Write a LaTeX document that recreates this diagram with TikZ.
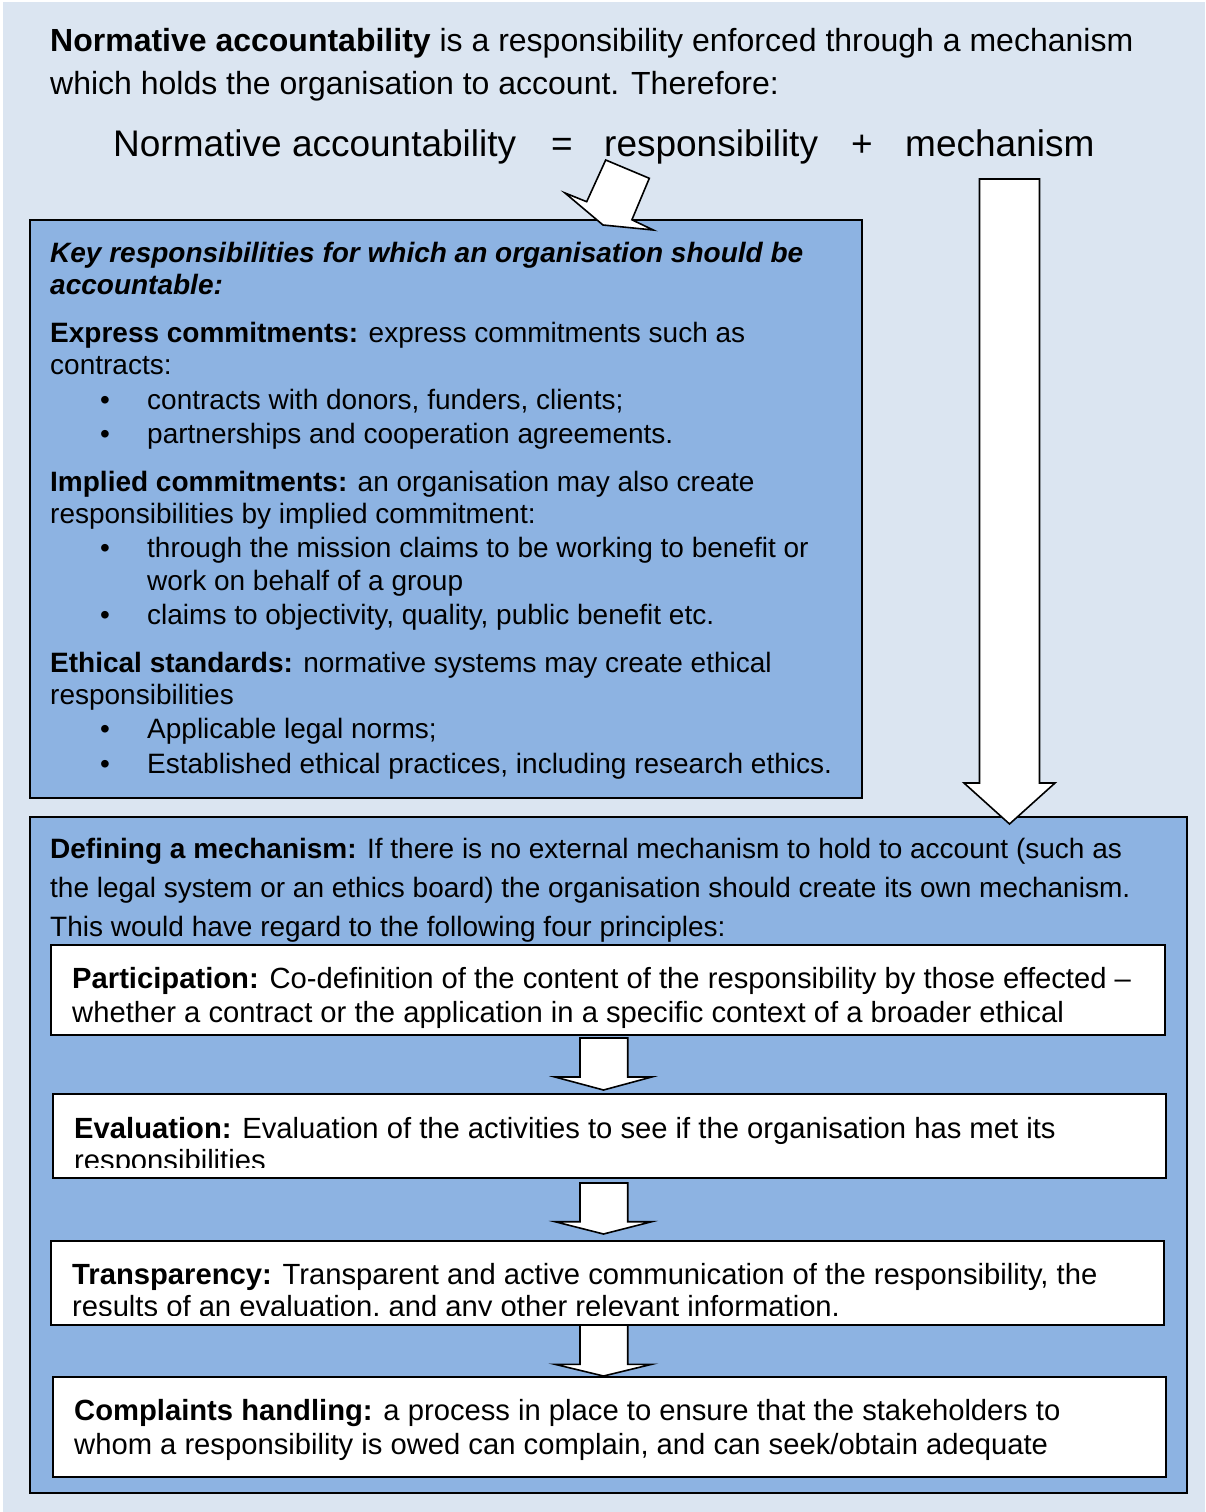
\documentclass[tikz,border=0pt]{standalone}
\usepackage{fontspec}
\setmainfont{Liberation Sans}
\definecolor{bgblue}{HTML}{DBE5F1}
\definecolor{boxblue}{HTML}{8DB3E2}
\begin{document}
\begin{tikzpicture}[x=1pt,y=-1pt,
  txt/.style={anchor=base west,inner sep=0pt,font=\fontsize{28}{34}\selectfont},
  ptxt/.style={anchor=base west,inner sep=0pt,font=\fontsize{29.2}{35}\selectfont},
  toptxt/.style={anchor=base west,inner sep=0pt,font=\fontsize{32}{38}\selectfont},
  eqtxt/.style={anchor=base west,inner sep=0pt,font=\fontsize{37}{44}\selectfont},
  eqsym/.style={anchor=base,inner sep=0pt,font=\fontsize{37}{44}\selectfont},
  bul/.style={anchor=base,inner sep=0pt,font=\fontsize{28}{34}\selectfont},
  panel/.style={draw=black,line width=2pt,fill=boxblue},
  whitebox/.style={draw=black,line width=2pt,fill=white},
  blockarrow/.style={draw=black,line width=1.6pt,fill=white,line join=miter}]
\useasboundingbox (0,0) rectangle (1205,1512);
\fill[bgblue] (3,2) rectangle (1205,1512);

% top text
\node[toptxt] (t1) at (50,51.5) {\textbf{Normative accountability} is a responsibility enforced through a mechanism};
\node[toptxt] (t2) at (50,94.5) {which holds the organisation to account. Therefore:};
\node[eqtxt] (e1) at (113,156) {Normative accountability};
\node[eqsym] (e2) at (562,156) {=};
\node[eqtxt] (e3) at (604,156) {responsibility};
\node[eqsym] (e4) at (862,156) {+};
\node[eqtxt] (e5) at (905,156) {mechanism};

% key responsibilities panel
\draw[panel] (30,220) rectangle (862,798);
\node[txt] (k1) at (50,262) {\textbf{\textit{Key responsibilities for which an organisation should be}}};
\node[txt] (k2) at (50,294) {\textbf{\textit{accountable:}}};
\node[txt] (k3) at (50,342) {\textbf{Express commitments:} express commitments such as};
\node[txt] (k4) at (50,374) {contracts:};
\node[bul] (b1) at (105,409) {•};
\node[txt] (k5) at (147,409) {contracts with donors, funders, clients;};
\node[bul] (b2) at (105,443) {•};
\node[txt] (k6) at (147,443) {partnerships and cooperation agreements.};
\node[txt] (k7) at (50,491) {\textbf{Implied commitments:} an organisation may also create};
\node[txt] (k8) at (50,523) {responsibilities by implied commitment:};
\node[bul] (b3) at (105,557) {•};
\node[txt] (k9) at (147,557) {through the mission claims to be working to benefit or};
\node[txt] (k10) at (147,590) {work on behalf of a group};
\node[bul] (b4) at (105,624) {•};
\node[txt] (k11) at (147,624) {claims to objectivity, quality, public benefit etc.};
\node[txt] (k12) at (50,672) {\textbf{Ethical standards:} normative systems may create ethical};
\node[txt] (k13) at (50,704) {responsibilities};
\node[bul] (b5) at (105,738) {•};
\node[txt] (k14) at (147,738) {Applicable legal norms;};
\node[bul] (b6) at (105,773) {•};
\node[txt] (k15) at (147,773) {Established ethical practices, including research ethics.};

% tilted arrow from "responsibility" to the panel
\draw[blockarrow] (605.7,160) -- (649.3,178.3) -- (631.9,219.8) -- (653.3,230)
  -- (603,225) -- (565,193) -- (586.7,201.7) -- cycle;

% mechanism panel
\draw[panel] (30,817) rectangle (1187,1493);
% long arrow from "mechanism"
\draw[blockarrow] (979.5,179) -- (1039.5,179) -- (1039.5,783) -- (1055,783)
  -- (1009.5,824) -- (964,783) -- (979.5,783) -- cycle;

\node[txt] (m1) at (50,858) {\textbf{Defining a mechanism:} If there is no external mechanism to hold to account (such as};
\node[txt] (m2) at (50,897) {the legal system or an ethics board) the organisation should create its own mechanism.};
\node[txt] (m3) at (50,936) {This would have regard to the following four principles:};

% small arrows between principle boxes
\draw[blockarrow] (580,1038) -- (627.7,1038) -- (627.7,1077) -- (651.7,1077)
  -- (603.5,1090) -- (555,1077) -- (580,1077) -- cycle;
\draw[blockarrow] (580,1183) -- (627.7,1183) -- (627.7,1221.7) -- (651.7,1221.7)
  -- (603.5,1234) -- (555,1221.7) -- (580,1221.7) -- cycle;
\draw[blockarrow] (580,1325) -- (627.7,1325) -- (627.7,1364.3) -- (651.7,1364.3)
  -- (603.5,1376) -- (555,1364.3) -- (580,1364.3) -- cycle;

% principle boxes
\draw[whitebox] (51,945) rectangle (1165,1035);
\node[ptxt] (p1) at (72,988) {\textbf{Participation:} Co-definition of the content of the responsibility by those effected –};
\node[ptxt] (p2) at (72,1022) {whether a contract or the application in a specific context of a broader ethical};

\draw[whitebox] (53,1094) rectangle (1166,1178);
\node[ptxt] (v1) at (74,1138) {\textbf{Evaluation:} Evaluation of the activities to see if the organisation has met its};
\begin{scope}
  \clip (54,1095) rectangle (1165,1167);
  \node[ptxt] (v2) at (74,1170) {responsibilities};
\end{scope}

\draw[whitebox] (51,1241) rectangle (1164,1325);
\node[ptxt] (r1) at (72,1284) {\textbf{Transparency:} Transparent and active communication of the responsibility, the};
\begin{scope}
  \clip (52,1242) rectangle (1163,1315);
  \node[ptxt] (r2) at (72,1316) {results of an evaluation, and any other relevant information.};
\end{scope}

\draw[whitebox] (53,1377) rectangle (1166,1477);
\node[ptxt] (c1) at (74,1420) {\textbf{Complaints handling:} a process in place to ensure that the stakeholders to};
\node[ptxt] (c2) at (74,1454) {whom a responsibility is owed can complain, and can seek/obtain adequate};
\end{tikzpicture}
\end{document}
